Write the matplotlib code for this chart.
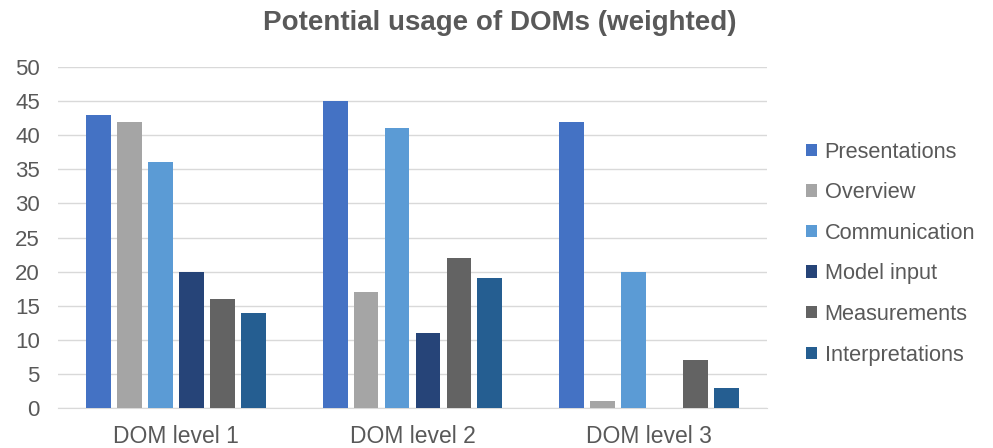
import matplotlib.pyplot as plt
import numpy as np

plt.rcParams['font.family'] = ['Liberation Sans', 'DejaVu Sans']

# DOM levels on the x-axis, one bar per usage type
levels = ['DOM level 1', 'DOM level 2', 'DOM level 3']
usages = ['Presentations', 'Overview', 'Communication',
          'Model input', 'Measurements', 'Interpretations']

presentations = [43, 45, 42]
overview = [42, 17, 1]
communication = [36, 41, 20]
model_input = [20, 11, 0]
measurements = [16, 22, 7]
interpretations = [14, 19, 3]

series = [presentations, overview, communication,
          model_input, measurements, interpretations]
colors = ['#4472C4', '#A5A5A5', '#5B9BD5', '#264478', '#636363', '#255E91']

text_color = '#595959'

fig = plt.figure(figsize=(9.93, 4.48), dpi=100)
ax = fig.add_axes([0.0584, 0.0893, 0.714, 0.7611])

x = np.arange(len(levels))
pitch = 0.131
width = 0.105
for i, (vals, col) in enumerate(zip(series, colors)):
    offset = (i - (len(series) - 1) / 2) * pitch
    ax.bar(x + offset, vals, width, color=col, label=usages[i], zorder=3)

ax.set_xlim(-0.5, 2.5)
ax.set_ylim(0, 50)
ax.set_yticks(range(0, 51, 5))
ax.set_xticks(x)
ax.set_xticklabels(levels)
ax.tick_params(axis='y', length=0, labelsize=16, colors=text_color, pad=13)
ax.tick_params(axis='x', length=0, labelsize=16.5, colors=text_color, pad=12)

ax.grid(axis='y', color='#D9D9D9', linewidth=1, zorder=0)
for side in ['top', 'right', 'left']:
    ax.spines[side].set_visible(False)
ax.spines['bottom'].set_color('#D9D9D9')

fig.text(0.503, 0.948, 'Potential usage of DOMs (weighted)', ha='center', va='center',
         fontsize=20, fontweight='bold', color=text_color)

leg = fig.legend(loc='center left', bbox_to_anchor=(0.792, 0.434), frameon=False,
                 fontsize=15.7, handlelength=0.5, handleheight=0.5,
                 handletextpad=0.35, labelspacing=0.9)
for t in leg.get_texts():
    t.set_color(text_color)

fig.savefig('out.png', dpi=100)
